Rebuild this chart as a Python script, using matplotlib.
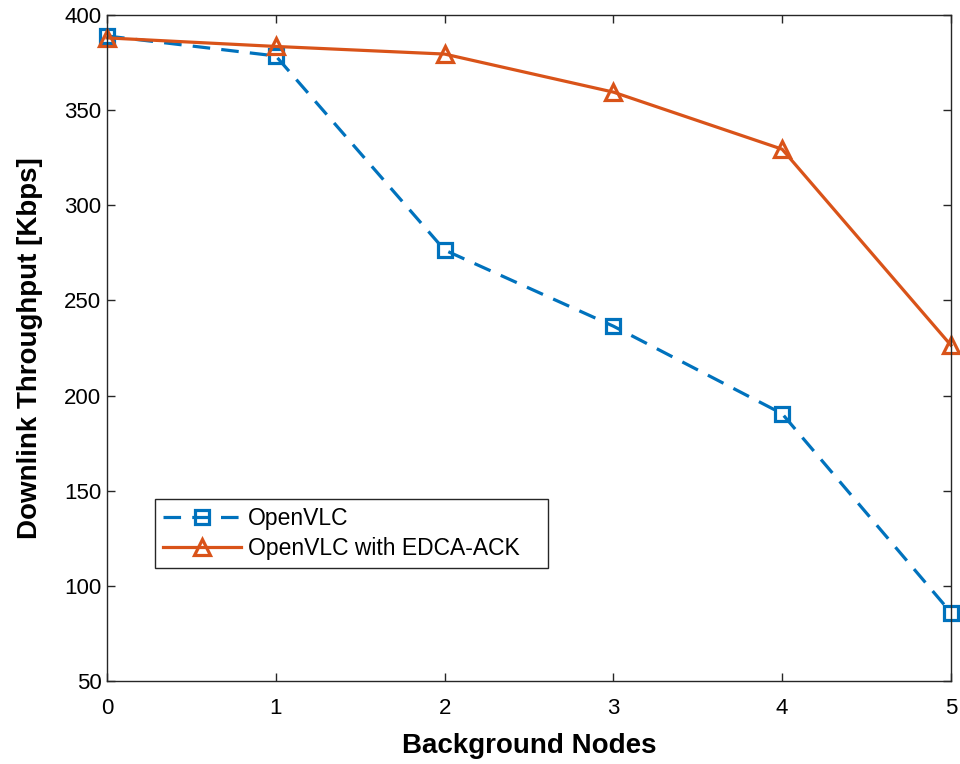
import matplotlib
matplotlib.use("Agg")
import matplotlib.pyplot as plt

nodes = [0, 1, 2, 3, 4, 5]
openvlc = [389, 378.5, 276.5, 236.5, 190.5, 86]
openvlc_edca = [388, 383.5, 379.5, 359.5, 329.5, 226.5]

plt.rcParams['font.family'] = ['Liberation Sans', 'DejaVu Sans']

fig = plt.figure(figsize=(9.6, 7.64), dpi=100)
ax = fig.add_axes([0.1115, 0.1086, 0.879, 0.8717])

ax.plot(nodes, openvlc, color='#0072BD', ls=(0, (5.5, 3.5)), lw=2.3, marker='s',
        markersize=9.5, markerfacecolor='none', markeredgewidth=2.3, label='OpenVLC', clip_on=False)
ax.plot(nodes, openvlc_edca, color='#D95319', ls='-', lw=2.3, marker='^',
        markersize=12, markerfacecolor='none', markeredgewidth=2.3,
        label='OpenVLC with EDCA-ACK', clip_on=False)

ax.set_xlim(0, 5)
ax.set_ylim(50, 400)
ax.set_xticks(nodes)
ax.set_yticks(range(50, 401, 50))
ax.tick_params(direction='in', top=True, right=True, labelsize=16, length=6, width=1,
               color='#262626')
ax.tick_params(axis='x', pad=12)
ax.tick_params(axis='y', pad=4)
for s in ax.spines.values():
    s.set_color('#262626')
    s.set_linewidth(1)

ax.set_xlabel('Background Nodes', fontsize=20, fontweight='bold', labelpad=10)
ax.set_ylabel('Downlink Throughput [Kbps]', fontsize=20, fontweight='bold', labelpad=15)

leg = ax.legend(loc='lower left', bbox_to_anchor=(0.057, 0.17, 0.4656, 0.1), mode='expand',
                fontsize=16.5, fancybox=False, edgecolor='#262626', framealpha=1,
                borderaxespad=0, handlelength=3.4, handletextpad=0.3, labelspacing=0.3,
                borderpad=0.35)
leg.get_frame().set_linewidth(1)

fig.savefig('out.png', dpi=100)
